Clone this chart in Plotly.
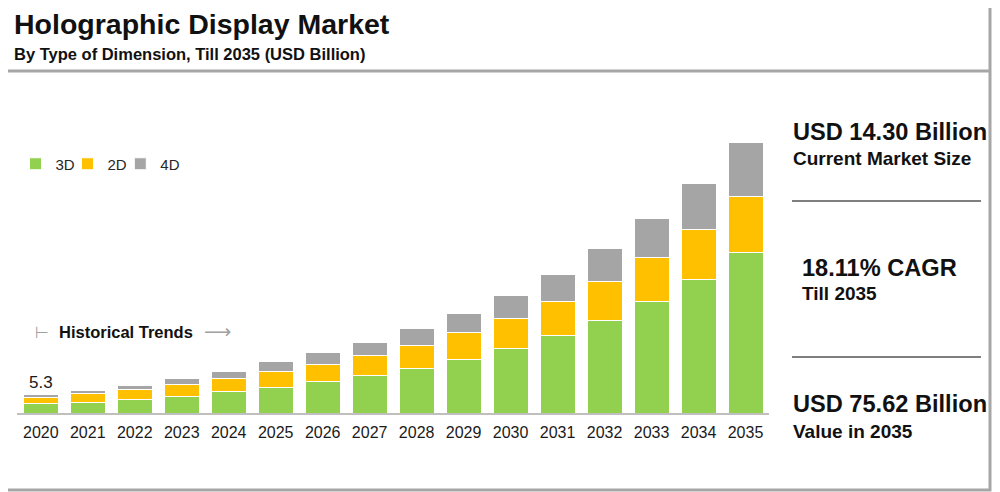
import plotly.graph_objects as go

# --- data (USD Billion) ---
years = [str(y) for y in range(2020, 2036)]
dim_3d = [2.59, 2.99, 3.82, 4.74, 6.06, 7.24, 8.76, 10.52, 12.39, 14.98, 17.86, 21.68, 25.87, 31.17, 37.31, 44.84]
dim_2d = [1.85, 2.43, 2.71, 3.18, 3.63, 4.45, 4.91, 5.58, 6.50, 7.45, 8.48, 9.40, 10.88, 12.28, 13.95, 15.71]
dim_4d = [0.86, 0.92, 1.28, 1.67, 1.95, 2.61, 3.18, 3.71, 4.66, 5.38, 6.42, 7.62, 9.21, 10.69, 12.84, 15.07]
series_names = ["3D", "2D", "4D"]
series_colors = ["#92d050", "#ffc000", "#a5a5a5"]

totals = [a + b + c for a, b, c in zip(dim_3d, dim_2d, dim_4d)]

FONT = "Arial, Liberation Sans, sans-serif"
W, H = 1000, 492
OFF = 8  # page body margin, layout below is laid out in screen pixels


def px(x):
    return (x - OFF) / W


def py(y):
    return 1 - (y - OFF) / H


fig = go.Figure()
legend_ids = ["legend", "legend2", "legend3"]
for name, vals, col, lg in zip(series_names, [dim_3d, dim_2d, dim_4d], series_colors, legend_ids):
    fig.add_trace(go.Bar(
        x=years, y=vals, name=name, legend=lg,
        marker=dict(color=col, line=dict(color="white", width=1)),
    ))

# value label on first bar (category index 0, numeric-looking names would be read as indices)
fig.add_annotation(x=0, y=totals[0], text=f"{totals[0]:.1f}",
                   showarrow=False, yanchor="bottom", yshift=0,
                   font=dict(family=FONT, size=17, color="#1a1a1a"))

texts = [
    # (text, x, y, size)
    ("Holographic Display Market", 12, 24, 28.5),
    ("By Type of Dimension, Till 2035 (USD Billion)", 12, 54, 16.5),
    ("USD 14.30 Billion", 791, 132, 23.6),
    ("Current Market Size", 791, 158, 19),
    ("18.11% CAGR", 800, 268, 23.6),
    ("Till 2035", 800, 293, 19),
    ("USD 75.62 Billion", 791, 404, 23.6),
    ("Value in 2035", 791, 431, 19),
    ("Historical Trends", 57, 332, 16.5),
]
for t, x, y, s in texts:
    fig.add_annotation(xref="paper", yref="paper", x=px(x), y=py(y),
                       xanchor="left", yanchor="middle", showarrow=False,
                       text=f"<b>{t}</b>",
                       font=dict(family=FONT, size=s, color="#111111"))

# thin grey markers around "Historical Trends"
fig.add_annotation(xref="paper", yref="paper", x=px(33), y=py(332), xanchor="left",
                   yanchor="middle", showarrow=False, text="⊢",
                   font=dict(family="DejaVu Sans", size=16, color="#a0a0a0"))
fig.add_annotation(xref="paper", yref="paper", x=px(202), y=py(331), xanchor="left",
                   yanchor="middle", showarrow=False, text="⟶",
                   font=dict(family="DejaVu Sans", size=19, color="#a0a0a0"))

# frame and separators
frame_right = 990
shapes = [
    dict(type="rect", xref="paper", yref="paper", x0=px(1), x1=px(frame_right), y0=py(490), y1=py(1),
         line=dict(color="#a6a6a6", width=3)),
    dict(type="line", xref="paper", yref="paper", x0=px(0), x1=px(frame_right), y0=py(71), y1=py(71),
         line=dict(color="#a6a6a6", width=3)),
    dict(type="line", xref="paper", yref="paper", x0=px(792), x1=px(981), y0=py(201), y1=py(201),
         line=dict(color="#7f7f7f", width=2)),
    dict(type="line", xref="paper", yref="paper", x0=px(792), x1=px(981), y0=py(357), y1=py(357),
         line=dict(color="#7f7f7f", width=2)),
]

plot_top, plot_bottom = 100, 413
px_per_unit = 271 / totals[-1]

legend_style = dict(orientation="h", yanchor="middle", xanchor="left", y=py(164),
                    font=dict(family=FONT, size=15, color="#262626"),
                    bgcolor="rgba(0,0,0,0)")

fig.update_layout(
    width=W, height=H,
    margin=dict(l=0, r=0, t=0, b=0),
    paper_bgcolor="white", plot_bgcolor="white",
    barmode="stack", bargap=0.255,
    font=dict(family=FONT, color="#1a1a1a"),
    shapes=shapes,
    showlegend=True,
    legend=dict(legend_style, x=px(15.5)),
    legend2=dict(legend_style, x=px(67.5)),
    legend3=dict(legend_style, x=px(120.3)),
    xaxis=dict(type="category", domain=[px(17.3), px(769)], range=[-0.5, len(years) - 0.5],
               showline=True, linecolor="#bfbfbf", linewidth=2, showgrid=False, ticks="",
               ticklabelstandoff=4,
               tickfont=dict(family=FONT, size=16, color="#1a1a1a")),
    yaxis=dict(domain=[py(plot_bottom), py(plot_top)],
               range=[0, (plot_bottom - plot_top) / px_per_unit],
               showgrid=False, zeroline=False, showticklabels=False, showline=False),
)

fig.write_html("out.html")
